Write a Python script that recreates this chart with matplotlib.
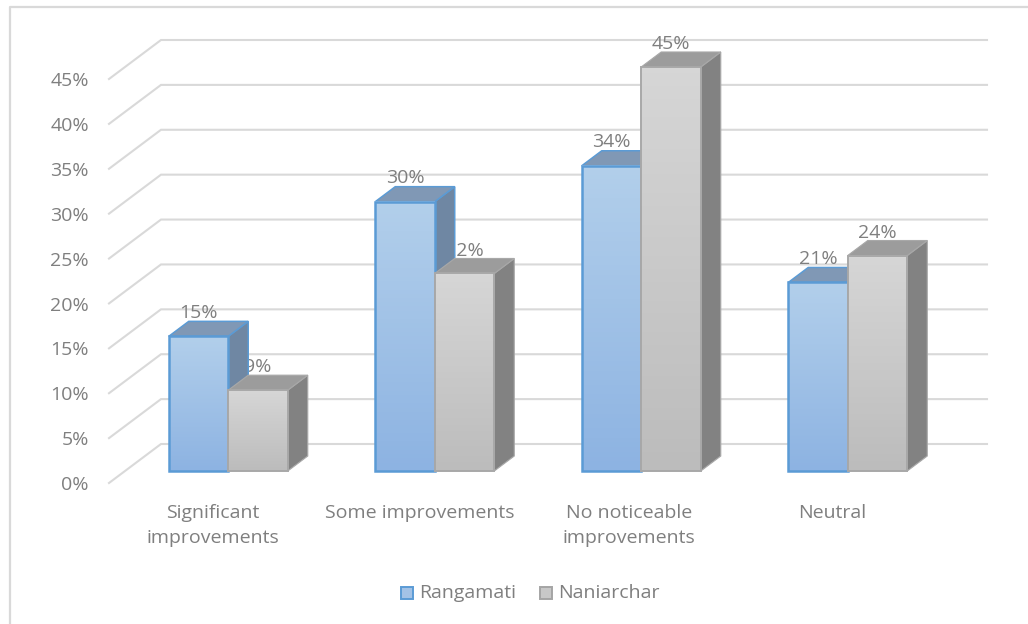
import numpy as np
import matplotlib
matplotlib.use('Agg')
import matplotlib.pyplot as plt
from matplotlib.lines import Line2D
from matplotlib.patches import Polygon, Rectangle

categories = ['Significant\nimprovements', 'Some improvements', 'No noticeable\nimprovements', 'Neutral']
rangamati = [15, 30, 34, 21]
naniarchar = [9, 22, 45, 24]
y_ticks = [0, 5, 10, 15, 20, 25, 30, 35, 40, 45]

W, H = 1028, 624
GREY_TXT = '#7f7f7f'
GRID = '#d9d9d9'
FS = 14

plt.rcParams['font.family'] = ['Open Sans', 'DejaVu Sans']
fig = plt.figure(figsize=(W / 100, H / 100), dpi=100)

# front plane of the floor, in pixels
left, right, bottom, top = 109, 935, 483, 79
ax = fig.add_axes([left / W, 1 - bottom / H, (right - left) / W, (bottom - top) / H])
ax.set_xlim(-0.5, 3.5)
ax.set_ylim(0, 45)
ax.axis('off')

px_x = 4 / (right - left)
px_y = 45 / (bottom - top)


# depth in pixels: moves a point right and up like the oblique view
def shift(x, y, dx, dy):
    return x + dx * px_x, y + dy * px_y


# grid lines run on the side wall and back wall
for v in y_ticks:
    xa, ya = shift(-0.5, v, 52, 39)
    xb, yb = shift(3.5, v, 52, 39)
    ax.plot([-0.5, xa, xb], [v, ya, yb], color=GRID, lw=1.5, clip_on=False, zorder=1,
            solid_joinstyle='miter')
    ax.annotate('%d%%' % v, (-0.5, v), xytext=(-14.5, -1.5), textcoords='offset points', ha='right',
                va='center', fontsize=FS, color=GREY_TXT, zorder=2, annotation_clip=False)


def gradient(c_top, c_bot):
    c_top = np.array(matplotlib.colors.to_rgb(c_top))
    c_bot = np.array(matplotlib.colors.to_rgb(c_bot))
    t = np.linspace(0, 1, 64)[:, None]
    return (c_top * (1 - t) + c_bot * t)[:, None, :]


def bar3d(x0, x1, v, front, edge, side, roof, z, lw):
    # all of the bar sits 16 px behind the front of the floor, 20 px deep
    (xl, yb) = shift(x0, 0, 16, 12)
    (xr, _) = shift(x1, 0, 16, 12)
    (_, yt) = shift(x0, v, 16, 12)
    ddx, ddy = 20 * px_x, 15 * px_y
    ax.add_patch(Polygon([(xr, yb), (xr + ddx, yb + ddy), (xr + ddx, yt + ddy), (xr, yt)],
                         closed=True, fc=side, ec=edge, lw=lw * 0.6, clip_on=False, zorder=z))
    ax.add_patch(Polygon([(xl, yt), (xr, yt), (xr + ddx, yt + ddy), (xl + ddx, yt + ddy)],
                         closed=True, fc=roof, ec=edge, lw=lw * 0.6, clip_on=False, zorder=z))
    ax.imshow(gradient(*front), extent=(xl, xr, yb, yt), aspect='auto', origin='upper',
              clip_on=False, zorder=z + 0.1)
    ax.add_patch(Rectangle((xl, yb), xr - xl, yt - yb, fc='none', ec=edge, lw=lw,
                           clip_on=False, zorder=z + 0.2))


bw = 59.5 * px_x
label_dx = [0.5, 1, 2.5, 0.5]
for i in range(len(categories)):
    # naniarchar label goes under the blue bar, that hides part of it
    xc, yt = shift(i + bw / 2, naniarchar[i], 16, 12)
    ax.annotate('%d%%' % naniarchar[i], (xc, yt), xytext=(0, 16.5), textcoords='offset points',
                ha='center', va='center', fontsize=FS, color=GREY_TXT, zorder=3, annotation_clip=False)
    bar3d(i - bw, i, rangamati[i], ('#b2cfeb', '#8db3e2'), '#5b9bd5', '#6f87a3', '#8098b5', 4, 1.8)
    bar3d(i, i + bw, naniarchar[i], ('#d6d6d6', '#bcbcbc'), '#a8a8a8', '#828282', '#9c9c9c', 5, 1.4)
    xc, yt = shift(i - bw / 2, rangamati[i], 16, 12)
    ax.annotate('%d%%' % rangamati[i], (xc, yt), xytext=(0, 17), textcoords='offset points',
                ha='center', va='center', fontsize=FS, color=GREY_TXT, zorder=6, annotation_clip=False)
    ax.annotate(categories[i], (i, 0), xytext=(label_dx[i], -15.2), textcoords='offset points', ha='center',
                va='top', fontsize=FS, color=GREY_TXT, linespacing=1.46, annotation_clip=False)

ax.set_xlim(-0.5, 3.5)
ax.set_ylim(0, 45)

# chart frame, only top and left are inside the crop
fig.add_artist(Line2D([9.5 / W, 9.5 / W, 1], [0, 1 - 6.5 / H, 1 - 6.5 / H], color=GRID, lw=1.6))

# legend
for px, name, fc, ec in [(401, 'Rangamati', '#a3c2e6', '#5b9bd5'), (540, 'Naniarchar', '#c8c8c8', '#a5a5a5')]:
    fig.add_artist(Rectangle((px / W, 1 - 599 / H), 12 / W, 12 / H, fc=fc, ec=ec, lw=1.4,
                             transform=fig.transFigure))
    fig.text((px + 18) / W, 1 - 593 / H, name, ha='left', va='center', fontsize=FS, color=GREY_TXT)

fig.savefig('out.png', dpi=100)
